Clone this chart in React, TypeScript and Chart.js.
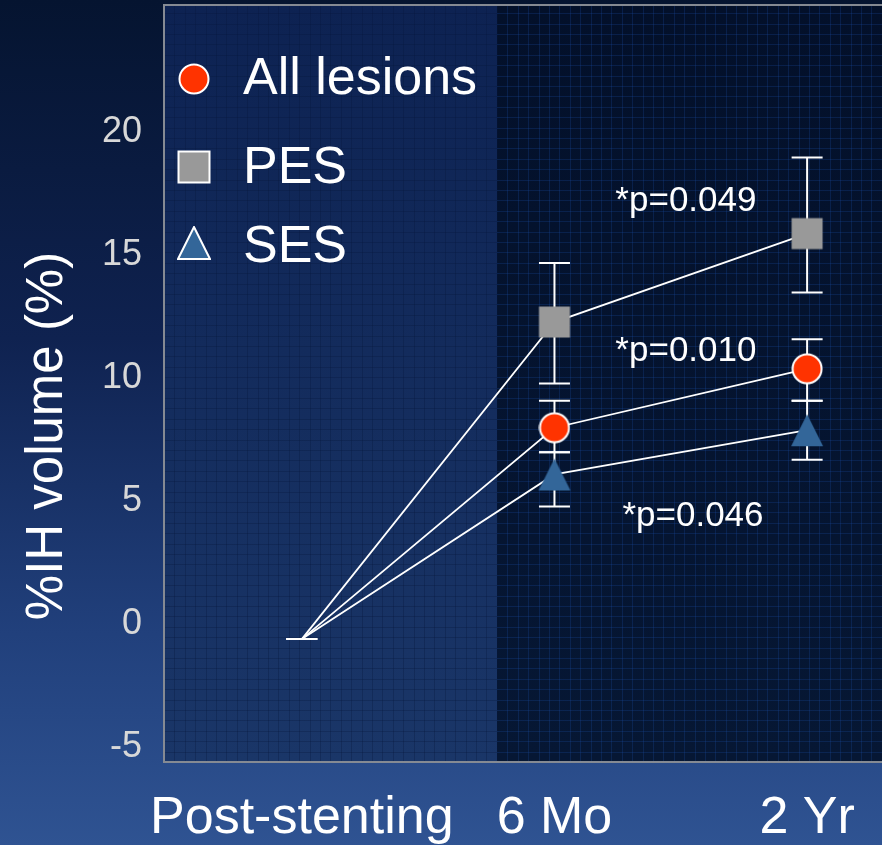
import React, { useEffect, useRef } from 'react';
import { Chart, registerables } from 'chart.js';

Chart.register(...registerables);

// ---- data ----
const timepoints = ['Post-stenting', '6 Mo', '2 Yr'];
const yTickValues = [-5, 0, 5, 10, 15, 20];
const seriesNames = ['All lesions', 'PES', 'SES'];

const allMean = [0, 8.6, 11.0];
const allLow = [0, 7.6, 9.7];
const allHigh = [0, 9.7, 12.2];

const pesMean = [0, 12.9, 16.5];
const pesLow = [0, 10.4, 14.1];
const pesHigh = [0, 15.3, 19.6];

const sesMean = [0, 6.7, 8.5];
const sesLow = [0, 5.4, 7.3];
const sesHigh = [0, 7.6, 9.7];

const pValueLabels = ['*p=0.049', '*p=0.010', '*p=0.046'];

// ---- styling ----
const FONT = "'Liberation Sans', Arial, sans-serif";
const RED = '#ff3300';
const GREY = '#999999';
const BLUE = '#336699';

type MarkerKind = 'circle' | 'square' | 'triangle';

function makeMarker(kind: MarkerKind, fill: string, outline: boolean): HTMLCanvasElement {
  const size = kind === 'circle' ? 32 : 34;
  const c = document.createElement('canvas');
  c.width = size;
  c.height = size;
  const ctx = c.getContext('2d')!;
  ctx.fillStyle = fill;
  ctx.strokeStyle = '#ffffff';
  ctx.lineWidth = 2;
  const m = size / 2;
  if (kind === 'circle') {
    ctx.beginPath();
    ctx.arc(m, m, 14.5, 0, Math.PI * 2);
    ctx.fill();
    if (outline) ctx.stroke();
  } else if (kind === 'square') {
    const s = 31;
    const o = (size - s) / 2;
    ctx.fillRect(o, o, s, s);
    if (outline) ctx.strokeRect(o, o, s, s);
  } else {
    ctx.beginPath();
    ctx.moveTo(m, 1);
    ctx.lineTo(size - 1, size - 1);
    ctx.lineTo(1, size - 1);
    ctx.closePath();
    ctx.fill();
    if (outline) ctx.stroke();
  }
  return c;
}

// background: slide gradient, two-tone plot panel with fine grid, grey frame
const backdropPlugin = {
  id: 'backdrop',
  beforeDraw(chart: any) {
    const { ctx, chartArea: ca, width, height } = chart;
    ctx.save();
    const g = ctx.createLinearGradient(0, 0, 0, height);
    g.addColorStop(0, '#051430');
    g.addColorStop(0.4, '#0f2250');
    g.addColorStop(0.75, '#21407c');
    g.addColorStop(1, '#2f5392');
    ctx.fillStyle = g;
    ctx.fillRect(0, 0, width, height);

    const split = Math.round(ca.left + (ca.right - ca.left) * 0.464);
    const gl = ctx.createLinearGradient(0, ca.top, 0, ca.bottom);
    gl.addColorStop(0, '#0d2252');
    gl.addColorStop(1, '#1a3668');
    ctx.fillStyle = gl;
    ctx.fillRect(ca.left, ca.top, split - ca.left, ca.bottom - ca.top);

    const gr = ctx.createLinearGradient(0, ca.top, 0, ca.bottom);
    gr.addColorStop(0, '#03102a');
    gr.addColorStop(1, '#061734');
    ctx.fillStyle = gr;
    ctx.fillRect(split, ca.top, ca.right - split, ca.bottom - ca.top);

    const step = 10.4;
    ctx.lineWidth = 1;
    // left panel grid
    ctx.strokeStyle = 'rgba(6, 22, 60, 0.3)';
    ctx.beginPath();
    for (let x = ca.left + step; x < split; x += step) {
      ctx.moveTo(Math.round(x) + 0.5, ca.top);
      ctx.lineTo(Math.round(x) + 0.5, ca.bottom);
    }
    for (let y = ca.bottom - step; y > ca.top; y -= step) {
      ctx.moveTo(ca.left, Math.round(y) + 0.5);
      ctx.lineTo(split, Math.round(y) + 0.5);
    }
    ctx.stroke();
    // right panel grid
    ctx.strokeStyle = 'rgba(28, 78, 165, 0.26)';
    ctx.beginPath();
    for (let x = split + step; x < ca.right; x += step) {
      ctx.moveTo(Math.round(x) + 0.5, ca.top);
      ctx.lineTo(Math.round(x) + 0.5, ca.bottom);
    }
    for (let y = ca.bottom - step; y > ca.top; y -= step) {
      ctx.moveTo(split, Math.round(y) + 0.5);
      ctx.lineTo(ca.right, Math.round(y) + 0.5);
    }
    ctx.stroke();

    // frame
    ctx.strokeStyle = '#858a93';
    ctx.lineWidth = 2;
    ctx.beginPath();
    ctx.moveTo(ca.right, ca.top);
    ctx.lineTo(ca.left, ca.top);
    ctx.lineTo(ca.left, ca.bottom);
    ctx.lineTo(ca.right, ca.bottom);
    ctx.stroke();
    ctx.restore();
  },
};

// whiskers drawn beneath the markers
const errorBarPlugin = {
  id: 'errorBars',
  beforeDatasetsDraw(chart: any) {
    const { ctx } = chart;
    const yScale = chart.scales.y;
    const cap = 15.5;
    ctx.save();
    ctx.strokeStyle = '#ffffff';
    ctx.lineWidth = 2;
    chart.data.datasets.forEach((ds: any, i: number) => {
      const meta = chart.getDatasetMeta(i);
      meta.data.forEach((pt: any, j: number) => {
        const x = pt.x;
        const yl = yScale.getPixelForValue(ds.errLow[j]);
        const yh = yScale.getPixelForValue(ds.errHigh[j]);
        ctx.beginPath();
        ctx.moveTo(x, yl);
        ctx.lineTo(x, yh);
        ctx.moveTo(x - cap, yl);
        ctx.lineTo(x + cap, yl);
        ctx.moveTo(x - cap, yh);
        ctx.lineTo(x + cap, yh);
        ctx.stroke();
      });
    });
    ctx.restore();
  },
};

// legend in the upper-left corner of the plot, p-values, and the y-axis title
const overlayPlugin = {
  id: 'overlay',
  afterDraw(chart: any) {
    const { ctx, chartArea: ca, scales } = chart;
    ctx.save();

    const rows = [
      { marker: 74, baseline: 89 },
      { marker: 162, baseline: 178 },
      { marker: 238, baseline: 257 },
    ];
    ctx.font = `52px ${FONT}`;
    ctx.fillStyle = '#ffffff';
    ctx.textAlign = 'left';
    ctx.textBaseline = 'alphabetic';
    chart.data.datasets.forEach((ds: any, i: number) => {
      const img: HTMLCanvasElement = ds.legendMarker;
      const cx = ca.left + 30;
      const cy = ca.top + rows[i].marker;
      ctx.drawImage(img, cx - img.width / 2, cy - img.height / 2);
      ctx.fillText(ds.label, ca.left + 79, ca.top + rows[i].baseline);
    });

    const anchors = [
      { x: 1.241, y: 17.42 },
      { x: 1.241, y: 11.33 },
      { x: 1.269, y: 4.6 },
    ];
    ctx.font = `35px ${FONT}`;
    pValueLabels.forEach((t, i) => {
      ctx.fillText(t, scales.x.getPixelForValue(anchors[i].x), scales.y.getPixelForValue(anchors[i].y));
    });

    ctx.translate(48, 436);
    ctx.rotate(-Math.PI / 2);
    ctx.font = `51px ${FONT}`;
    ctx.textAlign = 'center';
    ctx.textBaseline = 'middle';
    ctx.fillText('%IH volume (%)', 0, 0);
    ctx.restore();
  },
};

const noScalePadding = (scale: any) => {
  scale.paddingTop = 0;
  scale.paddingBottom = 0;
  scale.paddingLeft = 0;
  scale.paddingRight = 0;
};

export default function App() {
  const canvasRef = useRef<HTMLCanvasElement | null>(null);

  useEffect(() => {
    const canvas = canvasRef.current;
    if (!canvas) return;

    const toPoints = (vals: number[]) => vals.map((v, i) => ({ x: i, y: v }));
    const series = [
      { mean: allMean, low: allLow, high: allHigh, kind: 'circle' as MarkerKind, color: RED, plotOutline: true },
      { mean: pesMean, low: pesLow, high: pesHigh, kind: 'square' as MarkerKind, color: GREY, plotOutline: false },
      { mean: sesMean, low: sesLow, high: sesHigh, kind: 'triangle' as MarkerKind, color: BLUE, plotOutline: false },
    ];

    const datasets: any[] = series.map((s, i) => {
      const marker = makeMarker(s.kind, s.color, s.plotOutline);
      return {
        label: seriesNames[i],
        data: toPoints(s.mean),
        errLow: s.low,
        errHigh: s.high,
        legendMarker: makeMarker(s.kind, s.color, true),
        borderColor: '#ffffff',
        borderWidth: 1.8,
        backgroundColor: s.color,
        // the post-stenting origin has no marker
        pointStyle: s.mean.map((_, j) => (j === 0 ? false : marker)),
        pointRadius: s.mean.map((_, j) => (j === 0 ? 0 : 16)),
        fill: false,
        tension: 0,
      };
    });

    const chart = new Chart(canvas, {
      type: 'line',
      data: { datasets },
      options: {
        responsive: false,
        animation: false,
        events: [],
        layout: { autoPadding: false, padding: { top: 5, right: 0, bottom: 0, left: 0 } },
        plugins: {
          legend: { display: false },
          tooltip: { enabled: false },
        },
        scales: {
          x: {
            type: 'linear',
            min: -0.5455,
            max: 2.2964,
            grid: { display: false },
            border: { display: false },
            afterBuildTicks: (scale: any) => {
              scale.ticks = timepoints.map((_, i) => ({ value: i }));
            },
            afterFit: (scale: any) => {
              scale.height = 83;
              noScalePadding(scale);
            },
            ticks: {
              autoSkip: false,
              maxRotation: 0,
              padding: 17,
              color: '#ffffff',
              font: { family: FONT, size: 52 },
              callback: (v: any) => timepoints[Number(v)] ?? '',
            },
          },
          y: {
            type: 'linear',
            min: -5,
            max: 25.8,
            grid: { display: false },
            border: { display: false },
            afterBuildTicks: (scale: any) => {
              scale.ticks = yTickValues.map((v) => ({ value: v }));
            },
            afterFit: (scale: any) => {
              scale.width = 164;
              noScalePadding(scale);
            },
            ticks: {
              padding: 14,
              labelOffset: -15,
              color: '#d8d8d8',
              font: { family: FONT, size: 36 },
              callback: (v: any) => String(v),
            },
          },
        },
      },
      plugins: [backdropPlugin, errorBarPlugin, overlayPlugin],
    });

    return () => chart.destroy();
  }, []);

  return (
    <div style={{ position: 'fixed', left: 0, top: 0, width: 882, height: 845 }}>
      <canvas ref={canvasRef} width={882} height={845} style={{ display: 'block' }} />
    </div>
  );
}
